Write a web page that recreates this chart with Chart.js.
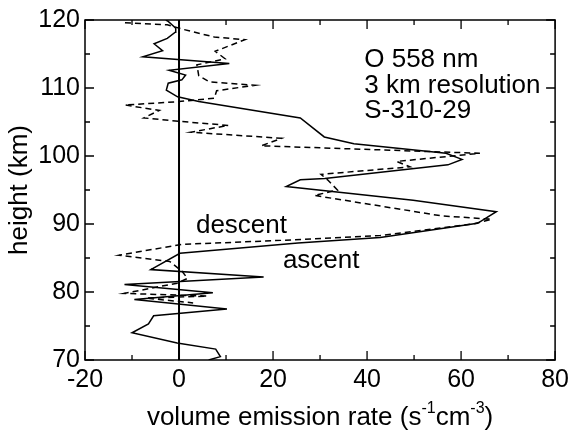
<!DOCTYPE html>
<html lang="en">
<head>
  <meta charset="UTF-8" />
  <title>O 558 nm volume emission rate</title>
  <script src="https://cdn.jsdelivr.net/npm/chart.js"></script>
  <style>
    * { box-sizing: border-box; }
    html, body {
      margin: 0;
      padding: 0;
      background: #fff;
    }
    #wrap {
      position: relative;
      width: 574px;
      height: 432px;
    }
  </style>
</head>
<body>

  <div id="wrap">
    <canvas id="ver" width="574" height="432"></canvas>
  </div>

  <script>
    // ascent profile (solid), bottom to top
    const ascentHeight = [70.0, 70.5, 71.6, 72.5, 74.0, 75.3, 76.5, 77.5, 78.9, 79.9, 81.1, 82.2, 83.3, 85.7,
      87.2, 88.0, 90.1, 91.8, 93.5, 95.5, 96.5, 96.7, 98.7, 99.5, 100.4, 101.8, 102.8, 105.6, 108.0, 108.7,
      109.7, 110.7, 111.2, 111.9, 112.6, 113.6, 114.6, 115.5, 116.5, 117.3, 118.2, 118.8, 119.3, 119.8, 120.0];
    const ascentRate = [6.3, 8.8, 7.8, -0.4, -10.0, -6.5, -5.4, 10.2, -9.5, 7.2, -11.6, 18.0, -6.0, 0.2,
      25.3, 42.8, 63.5, 67.5, 49.8, 22.8, 25.8, 31.0, 57.2, 60.2, 56.8, 37.2, 30.9, 25.8, 4.2, -0.3,
      -2.7, -2.3, 0.6, 1.4, -2.1, 10.7, -7.7, -3.5, -5.3, -2.5, -0.8, -0.7, -1.5, -2.3, -2.8];

    // descent profile (dashed), top to bottom
    const descentHeight = [119.6, 119.3, 118.6, 117.5, 117.1, 115.4, 114.3, 113.4, 111.8, 110.9, 110.4,
      109.6, 108.5, 108.0, 107.5, 106.7, 105.6, 105.1, 104.5, 103.5, 102.6, 101.5, 100.4, 99.2, 98.4,
      97.3, 96.5, 95.0, 94.2, 91.2, 90.7, 90.0, 88.3, 87.6, 87.0, 85.4, 84.5, 83.0, 82.0, 81.3, 79.8,
      79.4, 79.1, 78.4];
    const descentRate = [-11.5, -2.5, 1.0, 7.5, 14.0, 7.7, 9.8, 3.8, 4.2, 6.5, 16.1,
      8.0, 7.5, 0.0, -11.5, -4.2, -7.5, 0.0, 10.5, 2.5, 21.8, 17.5, 64.0, 46.3, 49.1,
      30.2, 31.6, 33.7, 28.8, 55.8, 66.5, 62.5, 42.8, 22.0, 0.5, -12.8, -2.0, 0.7, 1.8, -0.4, -11.6,
      6.0, -7.0, 3.0];

    const xTicks = [-20, 0, 20, 40, 60, 80];
    const yTicks = [70, 80, 90, 100, 110, 120];

    const toPoints = (xs, ys) => xs.map((x, i) => ({ x: x, y: ys[i] }));

    // text put on the plot, anchored in data units (left, baseline)
    const notes = [
      { text: 'O 558 nm', x: 39.4, y: 113.1 },
      { text: '3 km resolution', x: 39.4, y: 109.3 },
      { text: 'S-310-29', x: 39.4, y: 105.6 },
      { text: 'descent', x: 3.6, y: 88.7 },
      { text: 'ascent', x: 22.1, y: 83.5 }
    ];

    const FONT = '"Liberation Sans", Arial, sans-serif';

    const framePlugin = {
      id: 'frame',
      afterDraw: chart => {
        const ctx = chart.ctx;
        const a = chart.chartArea;
        const xs = chart.scales.x;
        const ys = chart.scales.y;
        ctx.save();
        ctx.strokeStyle = '#000';
        ctx.lineWidth = 1.5;
        ctx.strokeRect(a.left, a.top, a.right - a.left, a.bottom - a.top);

        // inward ticks on all four sides
        ctx.lineWidth = 1.3;
        ctx.beginPath();
        for (let v = xTicks[0]; v <= xTicks[xTicks.length - 1]; v += 10) {
          const px = xs.getPixelForValue(v);
          const len = (v % 20 === 0) ? 9 : 5;
          ctx.moveTo(px, a.bottom); ctx.lineTo(px, a.bottom - len);
          ctx.moveTo(px, a.top); ctx.lineTo(px, a.top + len);
        }
        for (let v = yTicks[0]; v <= yTicks[yTicks.length - 1]; v += 5) {
          const py = ys.getPixelForValue(v);
          const len = (v % 10 === 0) ? 9 : 5;
          ctx.moveTo(a.left, py); ctx.lineTo(a.left + len, py);
          ctx.moveTo(a.right, py); ctx.lineTo(a.right - len, py);
        }
        ctx.stroke();

        // annotations
        ctx.fillStyle = '#000';
        ctx.font = '26px ' + FONT;
        ctx.textAlign = 'left';
        ctx.textBaseline = 'alphabetic';
        notes.forEach(n => {
          ctx.fillText(n.text, xs.getPixelForValue(n.x), ys.getPixelForValue(n.y));
        });

        // y axis title
        ctx.save();
        ctx.translate(27, (a.top + a.bottom) / 2);
        ctx.rotate(-Math.PI / 2);
        ctx.textAlign = 'center';
        ctx.fillText('height (km)', 0, 0);
        ctx.restore();

        // x axis title with superscripts
        const parts = [
          { t: 'volume emission rate (s', sup: false },
          { t: '-1', sup: true },
          { t: 'cm', sup: false },
          { t: '-3', sup: true },
          { t: ')', sup: false }
        ];
        const big = '26px ' + FONT;
        const small = '16px ' + FONT;
        let total = 0;
        parts.forEach(p => {
          ctx.font = p.sup ? small : big;
          p.w = ctx.measureText(p.t).width;
          total += p.w;
        });
        let cx = (a.left + a.right) / 2 - total / 2;
        const base = 425;
        parts.forEach(p => {
          ctx.font = p.sup ? small : big;
          ctx.fillText(p.t, cx, p.sup ? base - 12 : base);
          cx += p.w;
        });
        ctx.restore();
      }
    };

    const ctx = document.getElementById('ver').getContext('2d');

    new Chart(ctx, {
      type: 'scatter',
      data: {
        datasets: [
          {
            label: 'zero',
            data: [{ x: 0, y: yTicks[0] }, { x: 0, y: yTicks[yTicks.length - 1] }],
            showLine: true,
            borderColor: '#000',
            borderWidth: 2,
            pointRadius: 0
          },
          {
            label: 'ascent',
            data: toPoints(ascentRate, ascentHeight),
            showLine: true,
            borderColor: '#000',
            borderWidth: 1.5,
            pointRadius: 0,
            tension: 0
          },
          {
            label: 'descent',
            data: toPoints(descentRate, descentHeight),
            showLine: true,
            borderColor: '#000',
            borderWidth: 1.5,
            borderDash: [6, 4],
            pointRadius: 0,
            tension: 0
          }
        ]
      },
      options: {
        responsive: false,
        animation: false,
        layout: {
          autoPadding: false,
          padding: { top: 20, right: 14, left: 0, bottom: 0 }
        },
        plugins: {
          legend: { display: false },
          tooltip: { enabled: false }
        },
        scales: {
          x: {
            type: 'linear',
            min: xTicks[0],
            max: xTicks[xTicks.length - 1],
            afterFit: s => { s.height = 72; },
            afterBuildTicks: s => { s.ticks = xTicks.map(v => ({ value: v })); },
            grid: { display: false, drawTicks: false },
            border: { display: false },
            ticks: {
              color: '#000',
              padding: 5,
              maxRotation: 0,
              font: { family: FONT, size: 25 }
            }
          },
          y: {
            type: 'linear',
            min: yTicks[0],
            max: yTicks[yTicks.length - 1],
            afterFit: s => { s.width = 85; },
            afterBuildTicks: s => { s.ticks = yTicks.map(v => ({ value: v })); },
            grid: { display: false, drawTicks: false },
            border: { display: false },
            ticks: {
              color: '#000',
              padding: 5,
              font: { family: FONT, size: 25 }
            }
          }
        }
      },
      plugins: [framePlugin]
    });
  </script>

</body>
</html>
